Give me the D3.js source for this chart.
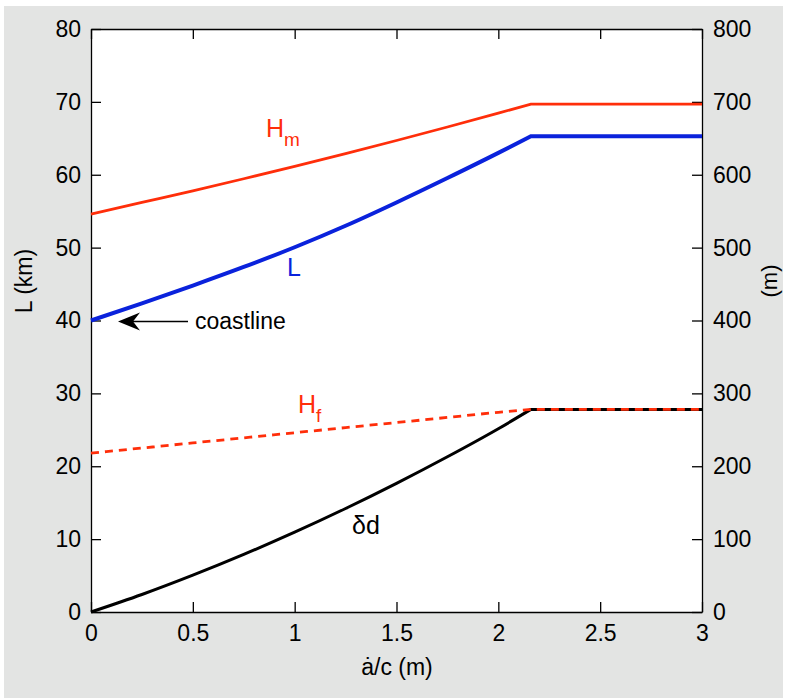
<!DOCTYPE html>
<html>
<head>
<meta charset="utf-8">
<script src="https://cdn.jsdelivr.net/npm/d3@7"></script>
<style>
  html, body { margin: 0; padding: 0; background: #ffffff; }
  svg { display: block; font-family: "Liberation Sans", Arial, Helvetica, sans-serif; }
</style>
</head>
<body>
<svg id="chart" width="786" height="698"></svg>
<script>
// Accumulation-rate parameter a/c (m)
const accum = [0, 0.25, 0.5, 0.75, 1, 1.25, 1.5, 1.75, 2, 2.16, 3];
// Ice-sheet length L (km), left axis
const lengthKm = [40, 42.35, 44.8, 47.35, 50.05, 53.0, 56.2, 59.55, 63.0, 65.3, 65.3];
// Maximum ice thickness H_m (m), right axis
const hMax = [546, 562, 578, 594.5, 611.5, 629, 647, 665.5, 684.5, 697, 697];
// Thickness at the front H_f (m), right axis
const hFront = [218, 225, 232, 239, 246, 253, 260, 267, 274, 278, 278];
// Bed depression δd (m), right axis
const depression = [0, 24, 50.5, 79, 109.5, 142, 176.5, 213, 251.5, 278, 278];

const xTicks = [0, 0.5, 1, 1.5, 2, 2.5, 3];
const leftTicks = [0, 10, 20, 30, 40, 50, 60, 70, 80];
const rightTicks = [0, 100, 200, 300, 400, 500, 600, 700, 800];

const svg = d3.select("#chart");
const m = { left: 91, right: 702, top: 29, bottom: 612 };

// grey panel behind the figure
svg.append("rect").attr("x", 4).attr("y", 6).attr("width", 779).attr("height", 692).attr("fill", "#e3e4e3");
svg.append("rect").attr("x", m.left).attr("y", m.top)
  .attr("width", m.right - m.left).attr("height", m.bottom - m.top).attr("fill", "#ffffff");

const x = d3.scaleLinear().domain([0, 3]).range([m.left, m.right]);
const yL = d3.scaleLinear().domain([0, 80]).range([m.bottom, m.top]);
const yR = d3.scaleLinear().domain([0, 800]).range([m.bottom, m.top]);

const tickLen = 10;
const fmt = d => d3.format("~g")(d);
const tickFont = 23;

function styleAxis(g) {
  g.selectAll("path.domain").attr("stroke", "#000").attr("stroke-width", 1.3);
  g.selectAll(".tick line").attr("stroke", "#000").attr("stroke-width", 1.3);
  g.selectAll(".tick text").attr("fill", "#000").attr("font-size", tickFont)
    .attr("font-family", "Liberation Sans, Arial, sans-serif");
}

// bottom axis with inward ticks
svg.append("g").attr("transform", `translate(0,${m.bottom})`)
  .call(d3.axisBottom(x).tickValues(xTicks).tickFormat(fmt).tickSizeInner(-tickLen).tickSizeOuter(0).tickPadding(13))
  .call(styleAxis);
// top axis (ticks only)
svg.append("g").attr("transform", `translate(0,${m.top})`)
  .call(d3.axisTop(x).tickValues(xTicks).tickFormat("").tickSizeInner(-tickLen).tickSizeOuter(0))
  .call(styleAxis);
// left axis (km)
svg.append("g").attr("transform", `translate(${m.left},0)`)
  .call(d3.axisLeft(yL).tickValues(leftTicks).tickFormat(fmt).tickSizeInner(-tickLen).tickSizeOuter(0).tickPadding(10))
  .call(styleAxis);
// right axis (m)
svg.append("g").attr("transform", `translate(${m.right},0)`)
  .call(d3.axisRight(yR).tickValues(rightTicks).tickFormat(fmt).tickSizeInner(-tickLen).tickSizeOuter(0).tickPadding(11))
  .call(styleAxis);

// axis titles
svg.append("text").attr("transform", "translate(32,281) rotate(-90)")
  .attr("text-anchor", "middle").attr("font-size", 23).text("L (km)");
svg.append("text").attr("transform", "translate(777,281) rotate(-90)")
  .attr("text-anchor", "middle").attr("font-size", 22).text("(m)");
svg.append("text").attr("x", 397).attr("y", 675)
  .attr("text-anchor", "middle").attr("font-size", 23).text("\u0227/c (m)");

// curves: smooth rise up to the kink, then a flat plateau
const kink = accum.indexOf(2.16);
function curvePath(vals, scale) {
  const rise = d3.range(kink + 1);
  const d = d3.line().curve(d3.curveMonotoneX)
    .x(i => x(accum[i])).y(i => scale(vals[i]))(rise);
  const rest = d3.range(kink + 1, accum.length)
    .map(i => `L${x(accum[i])},${scale(vals[i])}`).join("");
  return d + rest;
}

const red = "#ff2e0a";
svg.append("path").attr("d", curvePath(depression, yR)).attr("fill", "none")
  .attr("stroke", "#000").attr("stroke-width", 3);
svg.append("path").attr("d", curvePath(hFront, yR)).attr("fill", "none")
  .attr("stroke", red).attr("stroke-width", 2.8).attr("stroke-dasharray", "8,6");
svg.append("path").attr("d", curvePath(hMax, yR)).attr("fill", "none")
  .attr("stroke", red).attr("stroke-width", 2.8);
svg.append("path").attr("d", curvePath(lengthKm, yL)).attr("fill", "none")
  .attr("stroke", "#0a22dc").attr("stroke-width", 4);

// curve labels
function subLabel(px, py, main, sub, color) {
  const t = svg.append("text").attr("x", px).attr("y", py).attr("fill", color).attr("font-size", 25);
  t.append("tspan").text(main);
  t.append("tspan").attr("font-size", 19).attr("dy", 9).text(sub);
}
subLabel(266, 137, "H", "m", red);
subLabel(298, 413, "H", "f", red);
svg.append("text").attr("x", 287).attr("y", 276).attr("fill", "#0a22dc").attr("font-size", 25).text("L");
svg.append("text").attr("x", 352).attr("y", 534).attr("fill", "#000").attr("font-size", 25).text("\u03b4d");

// coastline pointer
const ax0 = 188, ax1 = x(0) + 27, ay = yL(40) + 1;
svg.append("line").attr("x1", ax0).attr("y1", ay).attr("x2", ax1 + 6).attr("y2", ay)
  .attr("stroke", "#000").attr("stroke-width", 1.6);
svg.append("path")
  .attr("d", `M${ax1},${ay} L${ax1 + 22},${ay - 9} L${ax1 + 15},${ay} L${ax1 + 22},${ay + 9} Z`)
  .attr("fill", "#000");
svg.append("text").attr("x", 195).attr("y", 329).attr("font-size", 23).text("coastline");
</script>
</body>
</html>
